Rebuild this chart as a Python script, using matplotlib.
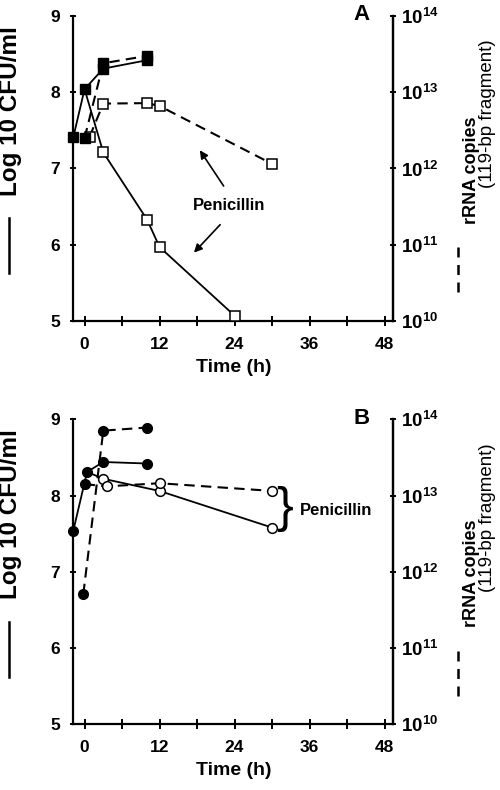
import numpy as np
import matplotlib
matplotlib.use('Agg')
import matplotlib.pyplot as plt
from matplotlib.lines import Line2D
from matplotlib.ticker import FixedLocator, FuncFormatter, NullLocator

plt.rcParams['font.family'] = ['Liberation Sans', 'DejaVu Sans']
plt.rcParams['font.weight'] = 'bold'
plt.rcParams['axes.labelweight'] = 'bold'
plt.rcParams['mathtext.fontset'] = 'custom'
plt.rcParams['mathtext.bf'] = 'Liberation Sans:bold'
plt.rcParams['mathtext.rm'] = 'Liberation Sans:bold'

# ---- panel A data (CFU in log10, rRNA in copies) ----
a_ctrl_cfu_t = [-1.8, 0, 3, 10]
a_ctrl_cfu = [7.41, 8.04, 8.31, 8.42]
a_ctrl_rna_t = [0, 3, 10]
a_ctrl_rna = [2.5e12, 2.4e13, 3.0e13]
a_pen_cfu_t = [0, 3, 10, 12, 24]
a_pen_cfu = [8.04, 7.21, 6.33, 5.97, 5.07]
a_pen_rna_t = [0.8, 3, 10, 12, 30]
a_pen_rna = [2.6e12, 7.1e12, 7.2e12, 6.6e12, 1.15e12]

# ---- panel B data ----
b_ctrl_cfu_t = [-1.8, 0.4, 3, 10]
b_ctrl_cfu = [7.54, 8.31, 8.44, 8.42]
b_ctrl_rna_t = [-0.2, 3, 10]
b_ctrl_rna = [5.1e11, 7.1e13, 7.8e13]
b_pen_cfu_t = [0.4, 3, 12, 30]
b_pen_cfu = [8.31, 8.22, 8.06, 7.58]
b_pen_rna_t = [0, 3.6, 12, 30]
b_pen_rna = [1.41e13, 1.32e13, 1.45e13, 1.15e13]

x_major = [0, 12, 24, 36, 48]
x_minor = [6, 18, 30, 42]
left_ticks = [5, 6, 7, 8, 9]
right_ticks = [1e10, 1e11, 1e12, 1e13, 1e14]

W, H = 500, 790
fig = plt.figure(figsize=(W / 100, H / 100), dpi=100)

DASH = (5, 3)


def px(x, y):
    return x / W, 1 - y / H


def make_axes(top):
    ax = fig.add_axes([73.3 / W, 1 - (top + 305) / H, 320 / W, 305 / H])
    ax.set_xlim(-1.8, 49.4)
    ax.set_ylim(5, 9)
    ax.spines['top'].set_visible(False)
    for s in ['left', 'bottom', 'right']:
        ax.spines[s].set_linewidth(1.6)
    ax.xaxis.set_major_locator(FixedLocator(x_major))
    ax.xaxis.set_minor_locator(FixedLocator(x_minor))
    ax.yaxis.set_major_locator(FixedLocator(left_ticks))
    ax.tick_params(axis='x', which='both', direction='inout', length=7, width=1.4,
                   labelsize=12.5, pad=8)
    ax.tick_params(axis='y', direction='inout', length=5, width=1.4, labelsize=12.5, pad=7)
    ax.set_xlabel('Time (h)', fontsize=14, labelpad=5)
    ax2 = ax.twinx()
    ax2.set_yscale('log')
    ax2.set_ylim(1e10, 1e14)
    ax2.spines['top'].set_visible(False)
    ax2.spines['right'].set_linewidth(1.6)
    ax2.spines['left'].set_visible(False)
    ax2.spines['bottom'].set_visible(False)
    ax2.yaxis.set_major_locator(FixedLocator(right_ticks))
    ax2.yaxis.set_minor_locator(NullLocator())
    ax2.yaxis.set_major_formatter(FuncFormatter(
        lambda v, p: r'$\mathbf{10^{%d}}$' % round(np.log10(v))))
    ax2.tick_params(axis='y', direction='inout', length=5, width=1.4, labelsize=13.5, pad=3)
    return ax, ax2


def side_labels(off):
    fig.text(*px(11, 111 + off), 'Log 10 CFU/ml', rotation=90, fontsize=17.5,
             ha='center', va='center')
    fig.add_artist(Line2D([9.3 / W] * 2, [1 - (218 + off) / H, 1 - (273 + off) / H],
                          color='k', lw=1.8))
    fig.text(*px(472, 170 + off), 'rRNA copies', rotation=90, fontsize=13,
             ha='center', va='center')
    fig.text(*px(487, 114 + off), '(119-bp fragment)', rotation=90, fontsize=13.5,
             ha='center', va='center', fontweight='normal')
    fig.add_artist(Line2D([458 / W] * 2, [1 - (247 + off) / H, 1 - (293 + off) / H],
                          color='k', lw=1.8, dashes=(4, 3)))


# ---------------- Panel A ----------------
axA, axA2 = make_axes(16)
sq = dict(marker='s', ms=6.5, clip_on=False, zorder=4)
axA.plot(a_pen_cfu_t, a_pen_cfu, '-', color='k', lw=1.3, zorder=3, clip_on=False)
axA.plot(a_pen_cfu_t[1:], a_pen_cfu[1:], ls='none', mfc='white', mec='k', mew=1.1, **sq)
axA.plot(a_ctrl_cfu_t, a_ctrl_cfu, '-', color='k', lw=1.3, mfc='k', mec='k', **sq)
axA2.plot(a_pen_rna_t, a_pen_rna, color='k', lw=1.5, dashes=DASH, mfc='white',
          mec='k', mew=1.1, **sq)
axA2.plot(a_ctrl_rna_t, a_ctrl_rna, color='k', lw=1.5, dashes=DASH, mfc='k', mec='k', **sq)

axA.text(23.2, 6.51, 'Penicillin', fontsize=12, ha='center', va='center')
arrow = dict(arrowstyle='-|>', color='k', lw=1.2, mutation_scale=12)
axA.annotate('', xy=(18.2, 7.27), xytext=(22.5, 6.74), arrowprops=arrow)
axA.annotate('', xy=(17.2, 5.87), xytext=(22.0, 6.29), arrowprops=arrow)
fig.text(*px(362, 15), 'A', fontsize=16, ha='center', va='center')
side_labels(0)

# ---------------- Panel B ----------------
axB, axB2 = make_axes(419.3)
ci = dict(marker='o', ms=7, clip_on=False, zorder=4)
axB.plot(b_pen_cfu_t, b_pen_cfu, '-', color='k', lw=1.3, zorder=3)
axB.plot(b_pen_cfu_t[1:], b_pen_cfu[1:], ls='none', mfc='white', mec='k', mew=1.1, **ci)
axB.plot(b_ctrl_cfu_t, b_ctrl_cfu, '-', color='k', lw=1.3, mfc='k', mec='k', **ci)
axB2.plot(b_pen_rna_t, b_pen_rna, color='k', lw=1.5, dashes=DASH, zorder=3)
axB2.plot(b_pen_rna_t[1:], b_pen_rna[1:], ls='none', mfc='white', mec='k', mew=1.1, **ci)
axB2.plot(b_pen_rna_t[:1], b_pen_rna[:1], ls='none', mfc='k', mec='k', **ci)
axB2.plot(b_ctrl_rna_t, b_ctrl_rna, color='k', lw=1.5, dashes=DASH, mfc='k', mec='k', **ci)

axB.text(32.0, 7.82, '}', fontsize=36, fontweight='normal', ha='center', va='center',
         family='Liberation Sans')
axB.text(34.4, 7.80, 'Penicillin', fontsize=12, ha='left', va='center')
fig.text(*px(362, 418), 'B', fontsize=16, ha='center', va='center')
side_labels(403.5)

fig.savefig('out.png', dpi=100)
